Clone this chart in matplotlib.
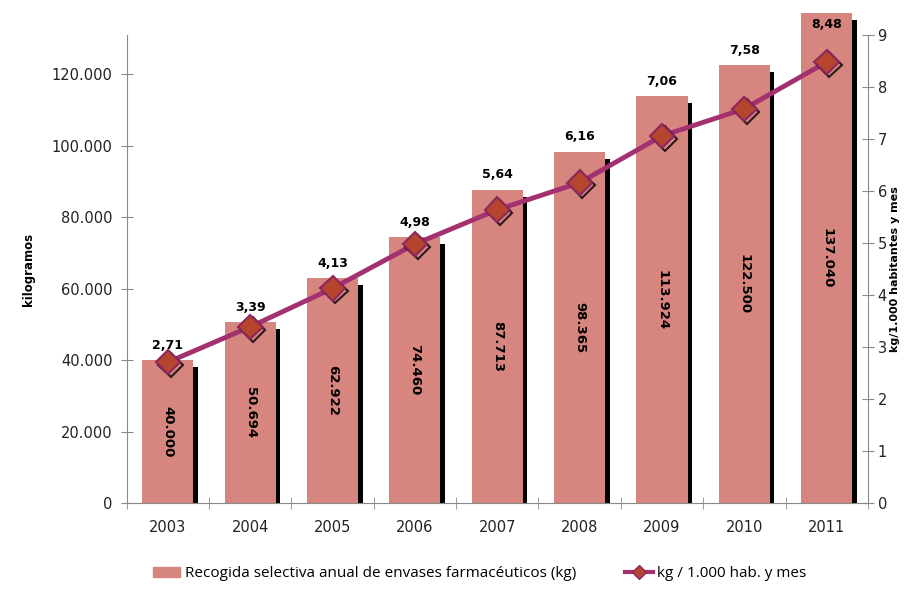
import matplotlib
matplotlib.use("Agg")
import matplotlib.pyplot as plt
import matplotlib.patheffects as pe
import numpy as np

years = ["2003", "2004", "2005", "2006", "2007", "2008", "2009", "2010", "2011"]
kg = [40000, 50694, 62922, 74460, 87713, 98365, 113924, 122500, 137040]
kg_labels = ["40.000", "50.694", "62.922", "74.460", "87.713", "98.365", "113.924", "122.500", "137.040"]
ratio = [2.71, 3.39, 4.13, 4.98, 5.64, 6.16, 7.06, 7.58, 8.48]
ratio_labels = ["2,71", "3,39", "4,13", "4,98", "5,64", "6,16", "7,06", "7,58", "8,48"]

bar_color = "#D6857F"
line_color = "#A3316F"
grey = "#8a8a8a"

fig = plt.figure(figsize=(9.05, 5.92), dpi=100)
ax = fig.add_axes([0.140, 0.150, 0.819, 0.791])
x = np.arange(len(years))
w = 0.62

# black drop shadow on the right of each bar
ax.bar(x + 0.055, [v - 2000 for v in kg], width=w, color="black", zorder=1, clip_on=False)
ax.bar(x, kg, width=w, color=bar_color, zorder=2, clip_on=False)

for i, v in enumerate(kg):
    ax.text(x[i], v / 2, kg_labels[i], rotation=270, ha="center", va="center",
            fontsize=9.5, fontweight="bold", color="black", zorder=3)

ax.set_xlim(-0.5, 8.5)
ax.set_ylim(0, 131000)
ax.set_yticks(range(0, 120001, 20000))
ax.set_yticklabels(["0", "20.000", "40.000", "60.000", "80.000", "100.000", "120.000"])
ax.set_xticks(x)
ax.set_xticklabels(years)
ax.set_xticks(np.arange(-0.5, 8.6, 1), minor=True)
ax.tick_params(axis="x", which="major", length=0, labelsize=10.5, pad=12, colors="#222222")
ax.tick_params(axis="x", which="minor", length=8, direction="inout", color=grey)
ax.tick_params(axis="y", length=8, direction="inout", color=grey, labelsize=10.5,
               labelcolor="#222222", pad=6)
for s in ["top", "right"]:
    ax.spines[s].set_visible(False)
ax.spines["left"].set_color(grey)
ax.spines["bottom"].set_color(grey)
ax.set_ylabel("kilogramos", fontsize=8.5, fontweight="bold", labelpad=12)

ax2 = ax.twinx()
ax2.set_ylim(0, 9)
ax2.set_yticks(range(0, 10))
ax2.tick_params(axis="y", length=8, direction="inout", color=grey, labelsize=10.5,
                labelcolor="#222222", pad=3)
for s in ["top", "left", "bottom"]:
    ax2.spines[s].set_visible(False)
ax2.spines["right"].set_color(grey)
ax2.set_ylabel("kg/1.000 habitantes y mes", fontsize=8, fontweight="bold", labelpad=2)

ax2.plot(x, ratio, color=line_color, lw=3.5, zorder=4, solid_capstyle="round")
ax2.plot(x, ratio, linestyle="none", marker="D", ms=12.5, markerfacecolor="#B5452C",
         markeredgecolor="#8E2660", markeredgewidth=1.5, zorder=5,
         path_effects=[pe.SimpleLineShadow(offset=(2, -2), shadow_color="black", alpha=0.8),
                       pe.Normal()])

# value labels of the line, placed just above each bar top
for i, v in enumerate(kg):
    if i == len(kg) - 1:
        ax.annotate(ratio_labels[i], (x[i], v), xytext=(0, -3), textcoords="offset points",
                    ha="center", va="top", fontsize=9, fontweight="bold", zorder=6,
                    annotation_clip=False)
    else:
        ax.annotate(ratio_labels[i], (x[i], v), xytext=(0, 6), textcoords="offset points",
                    ha="center", va="bottom", fontsize=9, fontweight="bold", zorder=6,
                    annotation_clip=False)

h1 = plt.Rectangle((0, 0), 1, 1, color=bar_color)
h2 = plt.Line2D([], [], color=line_color, lw=3, marker="D", ms=7,
                markerfacecolor="#B5452C", markeredgecolor="#8E2660")
fig.legend([h1, h2], ["Recogida selectiva anual de envases farmacéuticos (kg)", "kg / 1.000 hab. y mes"],
           loc="lower center", bbox_to_anchor=(0.53, -0.005), ncol=2, frameon=False,
           prop={"family": "Open Sans", "size": 11}, handlelength=1.8, columnspacing=3.2,
           handletextpad=0.3)

fig.savefig("out.png", dpi=100)
